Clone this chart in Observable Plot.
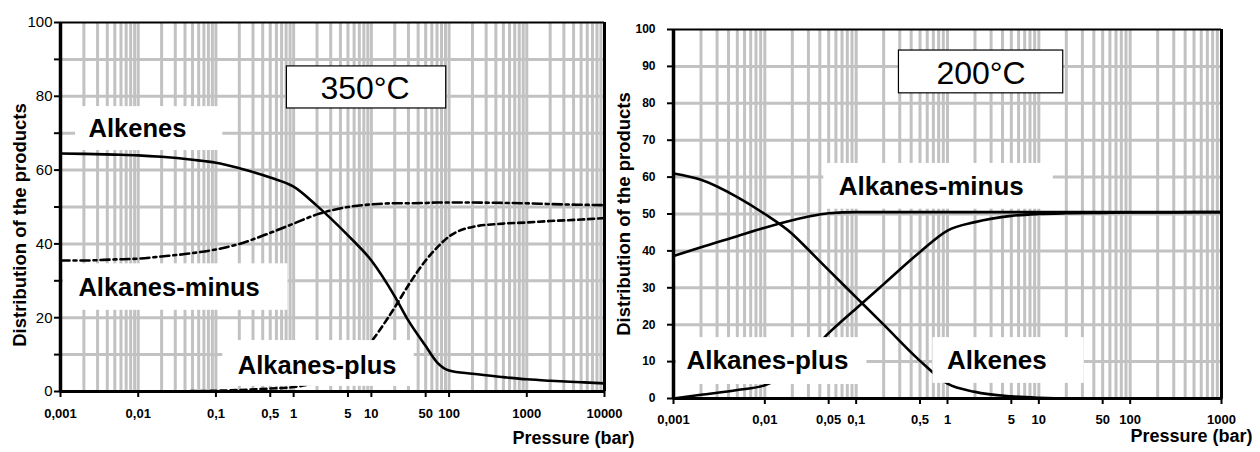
<!DOCTYPE html>
<html><head><meta charset="utf-8">
<script src="https://cdn.jsdelivr.net/npm/d3@7"></script>
<script src="https://cdn.jsdelivr.net/npm/@observablehq/plot@0.6"></script>
<style>
body{margin:0;background:#fff;font-family:"Liberation Sans",Arial,sans-serif;}
#wrap{display:flex;width:1260px;height:452px;}
#wrap svg{overflow:visible;flex:none;}
</style></head><body><div id="wrap"></div>
<script>
const seriesNames = ["Alkenes", "Alkanes-minus", "Alkanes-plus"];

// 350°C panel
const pressure350 = [0.001,0.002,0.005,0.01,0.02,0.05,0.1,0.2,0.5,1,2,5,10,20,30,50,70,100,200,500,1000,2000,5000,10000];
const alkenes350 =      [64.5,64.4,64.2,64.0,63.6,62.8,62.0,60.5,58.0,55.5,50.3,42.3,35.5,25.8,19.2,12.3,7.9,5.7,4.8,3.9,3.3,2.9,2.5,2.2];
const alkanesMinus350 = [35.5,35.5,35.8,36.0,36.6,37.5,38.5,40.0,43.0,45.5,48.0,50.0,50.7,51.0,51.0,51.1,51.2,51.2,51.2,51.1,51.0,50.8,50.6,50.5];
const alkanesPlus350 =  [0,0,0,0,0,0.1,0.2,0.4,0.8,1.2,2.5,6.0,13.5,22.8,28.8,35.5,39.0,42.0,44.6,45.5,45.8,46.2,46.6,47.0];
const xTicks350 = [0.001,0.01,0.1,0.5,1,5,10,50,100,1000,10000];
const xTickLabels350 = ["0,001","0,01","0,1","0,5","1","5","10","50","100","1000","10000"];
const yTicks350 = [0,10,20,30,40,50,60,70,80,90,100];
const yTickLabels350 = ["0","","20","","40","","60","","80","","100"];

// 200°C panel
const pressure200 = [0.001,0.002,0.005,0.01,0.02,0.03,0.05,0.1,0.2,0.5,1,2,5,10,20,50,100,200,500,1000];
const alkenes200 =      [61.0,59.3,54.6,50.0,44.6,40.3,34.8,27.4,20.0,10.2,4.0,1.8,0.6,0.2,0,0,0,0,0,0];
const alkanesMinus200 = [38.6,41.0,44.0,46.3,48.3,49.3,50.2,50.5,50.5,50.5,50.5,50.5,50.5,50.5,50.5,50.5,50.5,50.5,50.5,50.5];
const alkanesPlus200 =  [0,1.0,2.3,3.6,8.0,12.0,17.7,24.4,31.0,39.7,45.5,47.8,49.5,50.0,50.2,50.3,50.4,50.4,50.5,50.5];
const xTicks200 = [0.001,0.01,0.05,0.1,0.5,1,5,10,50,100,1000];
const xTickLabels200 = ["0,001","0,01","0,05","0,1","0,5","1","5","10","50","100","1000"];
const yTicks200 = [0,10,20,30,40,50,60,70,80,90,100];
const yTickLabels200 = ["0","10","20","30","40","50","60","70","80","90","100"];

// annotations (data coordinates: pressure, distribution)
const labels350 = [
  {text: "Alkenes", x: 0.0023, y: 71.3},
  {text: "Alkanes-minus", x: 0.0017, y: 28.0},
  {text: "Alkanes-plus", x: 0.191, y: 6.9}
];
const labelBoxes350 = [
  {x1: 0.00156, x2: 0.1225, y1: 65.3, y2: 77.2},
  {x1: 0.00109, x2: 0.844, y1: 22.0, y2: 34.6},
  {x1: 0.1225, x2: 35.6, y1: 1.4, y2: 13.8}
];
const tempBox350 = {x1: 0.819, x2: 91.9, y1: 76.7, y2: 88.1, text: "350°C", x: 8.3, y: 82.0};

const labels200 = [
  {text: "Alkanes-minus", x: 0.0645, y: 57.3},
  {text: "Alkanes-plus", x: 0.00139, y: 10.2},
  {text: "Alkenes", x: 0.987, y: 10.3}
];
const labelBoxes200 = [
  {x1: 0.0442, x2: 14.4, y1: 51.3, y2: 63.7},
  {x1: 0.00108, x2: 0.131, y1: 3.8, y2: 16.5},
  {x1: 0.693, x2: 31.4, y1: 4.1, y2: 16.5}
];
const tempBox200 = {x1: 0.294, x2: 18.5, y1: 82.7, y2: 94.3, text: "200°C", x: 2.33, y: 88.1};

const FONT = '"Liberation Sans", Arial, sans-serif';

function chart(o) {
  const rows = o.pressure.flatMap((p, i) => o.series.map((arr, k) => ({p, v: arr[i], s: seriesNames[k]})));
  const e0 = Math.round(Math.log10(o.xDomain[0])), e1 = Math.round(Math.log10(o.xDomain[1]));
  const gridX = d3.range(e0, e1).flatMap(e => d3.range(1, 10).map(m => m * Math.pow(10, e)));
  const gridY = d3.range(10, 100, 10);
  const yMap = new Map(o.yTicks.map((t, i) => [t, o.yTickLabels[i]]));
  return Plot.plot({
    width: o.width, height: 452,
    marginLeft: o.ml, marginRight: o.mr, marginTop: o.mt, marginBottom: o.mb,
    style: {overflow: "visible", background: "transparent", fontFamily: FONT, color: "black"},
    x: {type: "log", domain: o.xDomain},
    y: {domain: [0, 100]},
    marks: [
      Plot.ruleX(gridX, {stroke: "#c2c2c2", strokeWidth: 3}),
      Plot.ruleY(gridY, {stroke: "#c2c2c2", strokeWidth: 3}),
      ...seriesNames.map((name, k) => Plot.line(rows.filter(d => d.s === name), {
        x: "p", y: "v", curve: "monotone-x", stroke: "black", strokeWidth: 2.6,
        strokeDasharray: o.dash[k]
      })),
      Plot.rect(o.boxes, {x1: "x1", x2: "x2", y1: "y1", y2: "y2", fill: "white"}),
      Plot.text(o.labels, {x: "x", y: "y", text: "text", textAnchor: "start", fontSize: o.labelSize, fontWeight: "bold", fill: "black"}),
      Plot.rect([o.temp], {x1: "x1", x2: "x2", y1: "y1", y2: "y2", fill: "white", stroke: "black", strokeWidth: 1.2}),
      Plot.text([o.temp], {x: "x", y: "y", text: "text", fontSize: 32, fill: "black"}),
      Plot.ruleY([100], {stroke: "black", strokeWidth: 2}),
      Plot.ruleX([o.xDomain[1]], {stroke: "black", strokeWidth: 3}),
      Plot.ruleY([0], {stroke: "black", strokeWidth: 3}),
      Plot.ruleX([o.xDomain[0]], {stroke: "black", strokeWidth: 3.5}),
      // x tick marks (no text) plus tick labels as a text mark
      Plot.axisX({ticks: o.xTicks, tickFormat: () => "", tickSize: 6, strokeWidth: 2, label: null}),
      Plot.text(o.xTicks, {x: d => d, text: (d, i) => o.xTickLabels[i], frameAnchor: "bottom", lineAnchor: "top",
        dy: o.xPad, fontSize: 13, fontWeight: "bold", fill: "black"}),
      Plot.axisY({ticks: o.yTicks, tickFormat: d => yMap.get(d), tickSize: 6, tickPadding: o.yPad,
        fontSize: o.yFont, fontWeight: o.yWeight, strokeWidth: 2, label: null}),
      Plot.text(["Distribution of the products"], {frameAnchor: "left", textAnchor: "middle", rotate: -90, dx: o.ylDx, dy: o.ylDy,
        fontSize: 18.5, fontWeight: "bold", fill: "black"}),
      Plot.text(["Pressure (bar)"], {frameAnchor: "bottom-right", textAnchor: "start", dx: o.xlDx, dy: o.xlDy,
        fontSize: 18, fontWeight: "bold", fill: "black"})
    ]
  });
}

const left = chart({
  width: 615, ml: 60, mr: 11, mt: 22, mb: 61,
  xDomain: [0.001, 10000],
  pressure: pressure350, series: [alkenes350, alkanesMinus350, alkanesPlus350],
  dash: [undefined, "9,4,3,4", "6,4"],
  boxes: labelBoxes350, labels: labels350, labelSize: 25.5, temp: tempBox350,
  xTicks: xTicks350, xTickLabels: xTickLabels350, xPad: 17,
  yTicks: yTicks350, yTickLabels: yTickLabels350, yPad: 2, yFont: 15, yWeight: "normal",
  ylDx: -40, ylDy: 18, xlDx: -92, xlDy: 52
});
const right = chart({
  width: 645, ml: 58, mr: 39, mt: 29, mb: 54,
  xDomain: [0.001, 1000],
  pressure: pressure200, series: [alkenes200, alkanesMinus200, alkanesPlus200],
  dash: [undefined, undefined, undefined],
  boxes: labelBoxes200, labels: labels200, labelSize: 26, temp: tempBox200,
  xTicks: xTicks200, xTickLabels: xTickLabels200, xPad: 16,
  yTicks: yTicks200, yTickLabels: yTickLabels200, yPad: 12, yFont: 12, yWeight: "bold",
  ylDx: -49, ylDy: 0, xlDx: -91, xlDy: 43
});
document.getElementById("wrap").append(left, right);
</script></body></html>
